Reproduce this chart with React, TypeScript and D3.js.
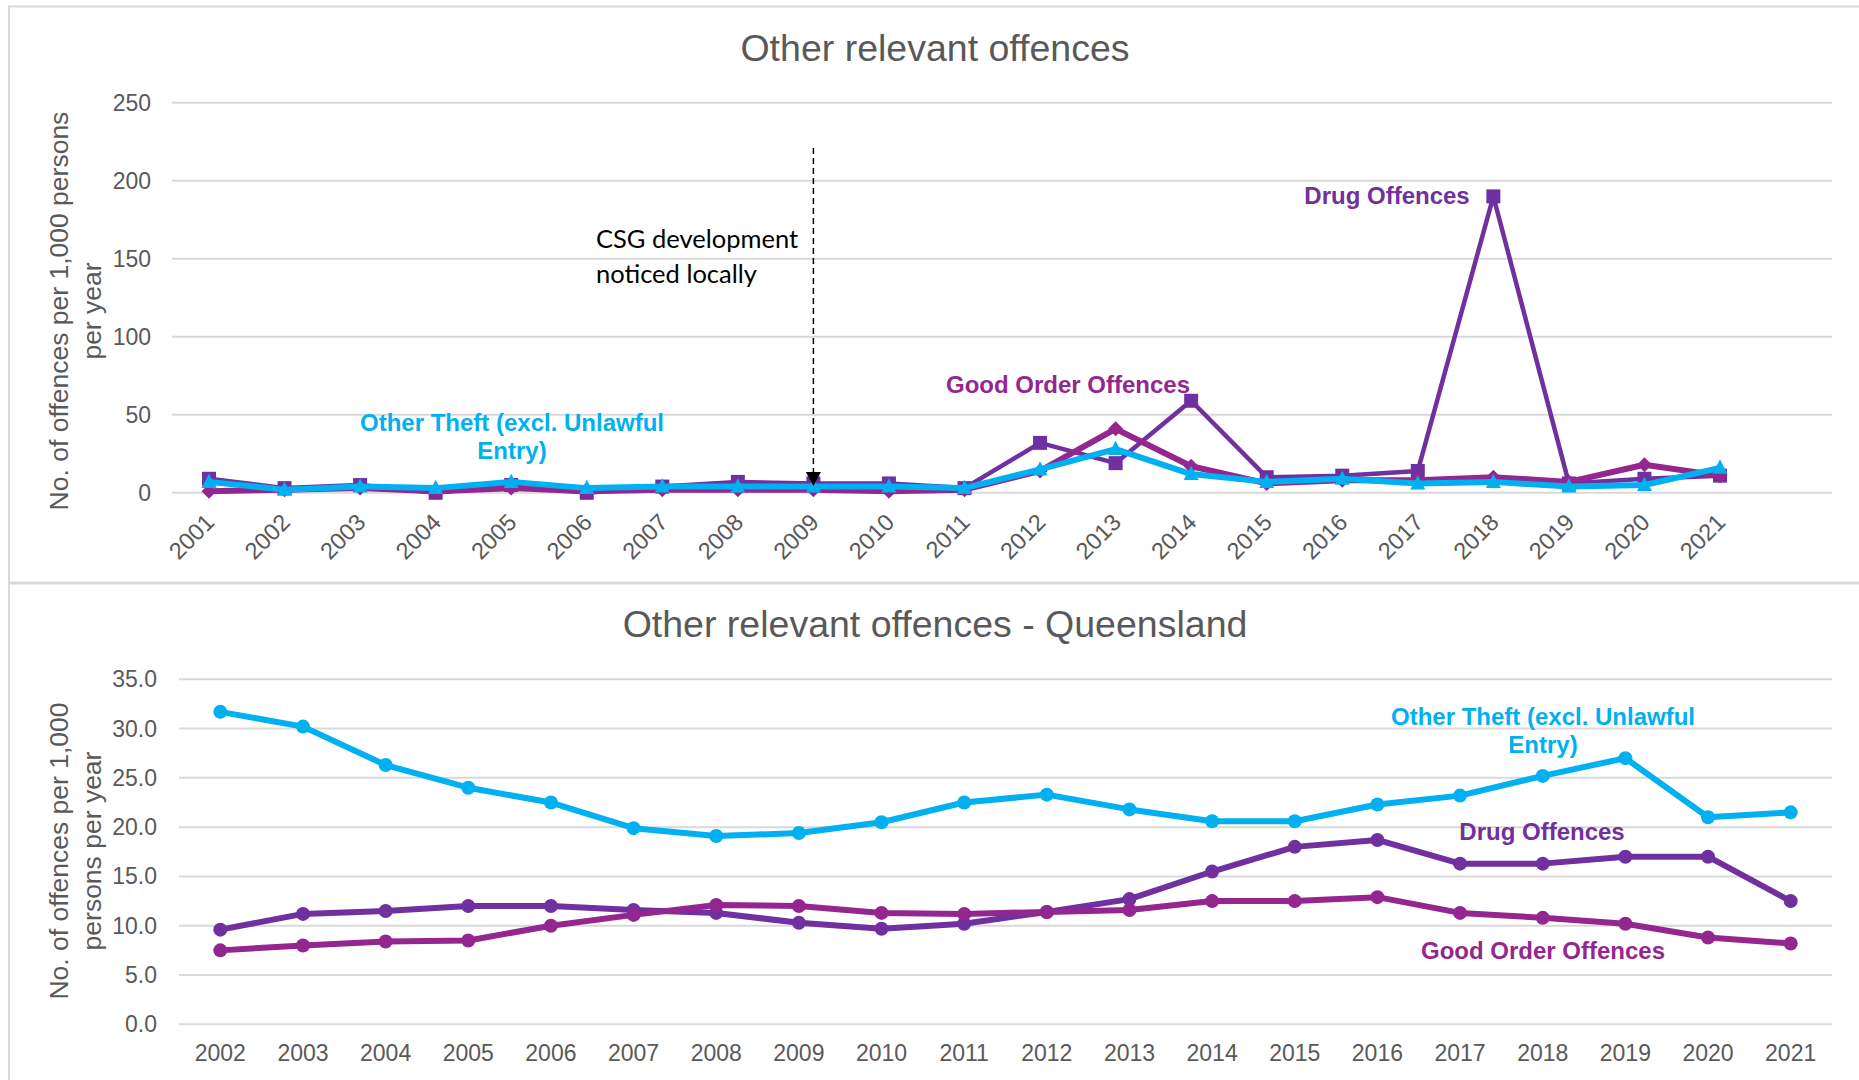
import React from "react";
import * as d3 from "d3";

// ---------- Data ----------
const yearsTop = ["2001","2002","2003","2004","2005","2006","2007","2008","2009","2010","2011","2012","2013","2014","2015","2016","2017","2018","2019","2020","2021"];
const drugTop = [9, 3, 5, 0, 5, 0, 4, 7, 6, 6, 3, 32, 19, 59, 10, 11, 14, 190, 6, 9, 11];
const goodOrderTop = [1, 2, 3, 1, 3, 1, 2, 2, 2, 1, 2, 14, 41, 17, 6, 8, 8, 10, 7, 18, 11];
const theftTop = [7, 2, 4, 3, 7, 3, 4, 4, 4, 4, 3, 15, 28, 12, 7, 9, 6, 7, 4, 5, 16];
const topTicks = [0, 50, 100, 150, 200, 250];

const yearsBottom = ["2002","2003","2004","2005","2006","2007","2008","2009","2010","2011","2012","2013","2014","2015","2016","2017","2018","2019","2020","2021"];
const theftQld = [31.7, 30.2, 26.3, 24.0, 22.5, 19.9, 19.1, 19.4, 20.5, 22.5, 23.3, 21.8, 20.6, 20.6, 22.3, 23.2, 25.2, 27.0, 21.0, 21.5];
const drugQld = [9.6, 11.2, 11.5, 12.0, 12.0, 11.6, 11.3, 10.3, 9.7, 10.2, 11.4, 12.7, 15.5, 18.0, 18.7, 16.3, 16.3, 17.0, 17.0, 12.5];
const goodOrderQld = [7.5, 8.0, 8.4, 8.5, 10.0, 11.1, 12.1, 12.0, 11.3, 11.2, 11.4, 11.6, 12.5, 12.5, 12.9, 11.3, 10.8, 10.2, 8.8, 8.2];
const bottomTicks = [0, 5, 10, 15, 20, 25, 30, 35];

// ---------- Styles ----------
const FONT = "'Liberation Sans', Arial, sans-serif";
const GREY = "#595959";
const GRID = "#D9D9D9";
const PURPLE = "#7030A0";
const MAGENTA = "#93278F";
const BLUE = "#00B0F0";

const W = 1859;
const H = 1080;

// Top chart scales
const xTop = d3.scalePoint<string>().domain(yearsTop).range([209, 1720]);
const yTop = d3.scaleLinear().domain([0, 250]).range([492.8, 102.8]);
// Bottom chart scales
const xBot = d3.scaleBand<string>().domain(yearsBottom).range([179, 1832]);
const yBot = d3.scaleLinear().domain([0, 35]).range([1024.3, 679.3]);

const squarePath = (r: number) => `M${-r},${-r}H${r}V${r}H${-r}Z`;
const diamondPath = (r: number) => `M0,${-r}L${r},0L0,${r}L${-r},0Z`;
const trianglePath = (r: number) => `M0,${-r * 1.1}L${r},${r * 0.8}L${-r},${r * 0.8}Z`;

function Series({ values, x, y, color, width, marker, size }: any) {
  const pts = values.map((v: number, i: number) => [x(i), y(v)] as [number, number]);
  const line = d3.line()(pts) || "";
  return (
    <g>
      <path d={line} fill="none" stroke={color} strokeWidth={width} strokeLinejoin="round" />
      {pts.map((p: [number, number], i: number) =>
        marker === "circle" ? (
          <circle key={i} cx={p[0]} cy={p[1]} r={size} fill={color} />
        ) : (
          <path key={i} d={marker(size)} transform={`translate(${p[0]},${p[1]})`} fill={color} />
        )
      )}
    </g>
  );
}

export default function App() {
  const xt = (i: number) => xTop(yearsTop[i]) as number;
  const xb = (i: number) => (xBot(yearsBottom[i]) as number) + xBot.bandwidth() / 2;
  const arrowX = xTop("2009") as number;

  return (
    <svg
      width={W}
      height={H}
      style={{ position: "absolute", left: 0, top: 0, background: "#fff" }}
      fontFamily={FONT}
    >
      <rect x={0} y={0} width={W} height={H} fill="#fff" />
      {/* panel borders */}
      <rect x={9} y={6.5} width={W + 20} height={576} fill="none" stroke={GRID} strokeWidth={2} />
      <rect x={9} y={583.5} width={W + 20} height={600} fill="none" stroke={GRID} strokeWidth={2} />

      {/* ---------- TOP CHART ---------- */}
      <text x={935} y={61} textAnchor="middle" fontSize={37.5} fill={GREY}>Other relevant offences</text>
      {topTicks.map((t) => (
        <g key={t}>
          <line x1={172} x2={1832} y1={yTop(t)} y2={yTop(t)} stroke={GRID} strokeWidth={2} />
          <text x={151} y={yTop(t)} dy="0.35em" textAnchor="end" fontSize={23} fill={GREY}>{t}</text>
        </g>
      ))}
      <g transform="translate(75,311) rotate(-90)" fill={GREY} fontSize={26.5}>
        <text x={0} y={-16} dy="0.35em" textAnchor="middle">No. of offences per 1,000 persons</text>
        <text x={0} y={17} dy="0.35em" textAnchor="middle">per year</text>
      </g>
      {yearsTop.map((yr) => (
        <text
          key={yr}
          transform={`translate(${(xTop(yr) as number) + 1},518) rotate(-45)`}
          textAnchor="end"
          dy="0.35em"
          fontSize={23.5}
          fill={GREY}
        >
          {yr}
        </text>
      ))}

      <Series values={drugTop} x={xt} y={yTop} color={PURPLE} width={4.5} marker={squarePath} size={7} />
      <Series values={goodOrderTop} x={xt} y={yTop} color={MAGENTA} width={6} marker={diamondPath} size={7.5} />
      <Series values={theftTop} x={xt} y={yTop} color={BLUE} width={6} marker={trianglePath} size={7.5} />

      {/* annotation */}
      <line x1={arrowX} x2={arrowX} y1={148} y2={474} stroke="#000" strokeWidth={1.5} strokeDasharray="6,4" />
      <path d={`M${arrowX - 7.5},472 L${arrowX + 7.5},472 L${arrowX},486 Z`} fill="#000" />
      <g fontFamily="Lato, 'Open Sans', sans-serif" fontSize={25.5} fill="#000">
        <text x={596} y={248}>CSG development</text>
        <text x={596} y={283}>noticed locally</text>
      </g>

      <g fontWeight="bold" fontSize={24} textAnchor="middle">
        <text x={1387} y={196} dy="0.35em" fill={PURPLE}>Drug Offences</text>
        <text x={1068} y={385} dy="0.35em" fill={MAGENTA}>Good Order Offences</text>
        <text x={512} y={423} dy="0.35em" fill={BLUE}>Other Theft (excl. Unlawful</text>
        <text x={512} y={451} dy="0.35em" fill={BLUE}>Entry)</text>
      </g>

      {/* ---------- BOTTOM CHART ---------- */}
      <text x={935} y={637} textAnchor="middle" fontSize={37.5} fill={GREY}>Other relevant offences - Queensland</text>
      {bottomTicks.map((t) => (
        <g key={t}>
          <line x1={179} x2={1832} y1={yBot(t)} y2={yBot(t)} stroke={GRID} strokeWidth={2} />
          <text x={157} y={yBot(t)} dy="0.35em" textAnchor="end" fontSize={23} fill={GREY}>{t.toFixed(1)}</text>
        </g>
      ))}
      <g transform="translate(75,851) rotate(-90)" fill={GREY} fontSize={26.5}>
        <text x={0} y={-16} dy="0.35em" textAnchor="middle">No. of offences per 1,000</text>
        <text x={0} y={17} dy="0.35em" textAnchor="middle">persons per year</text>
      </g>
      {yearsBottom.map((yr) => (
        <text
          key={yr}
          x={(xBot(yr) as number) + xBot.bandwidth() / 2}
          y={1053}
          dy="0.35em"
          textAnchor="middle"
          fontSize={23}
          fill={GREY}
        >
          {yr}
        </text>
      ))}

      <Series values={drugQld} x={xb} y={yBot} color={PURPLE} width={6} marker="circle" size={7} />
      <Series values={goodOrderQld} x={xb} y={yBot} color={MAGENTA} width={6} marker="circle" size={7} />
      <Series values={theftQld} x={xb} y={yBot} color={BLUE} width={6} marker="circle" size={7} />

      <g fontWeight="bold" fontSize={24} textAnchor="middle">
        <text x={1543} y={717} dy="0.35em" fill={BLUE}>Other Theft (excl. Unlawful</text>
        <text x={1543} y={745} dy="0.35em" fill={BLUE}>Entry)</text>
        <text x={1542} y={832} dy="0.35em" fill={PURPLE}>Drug Offences</text>
        <text x={1543} y={951} dy="0.35em" fill={MAGENTA}>Good Order Offences</text>
      </g>
    </svg>
  );
}
